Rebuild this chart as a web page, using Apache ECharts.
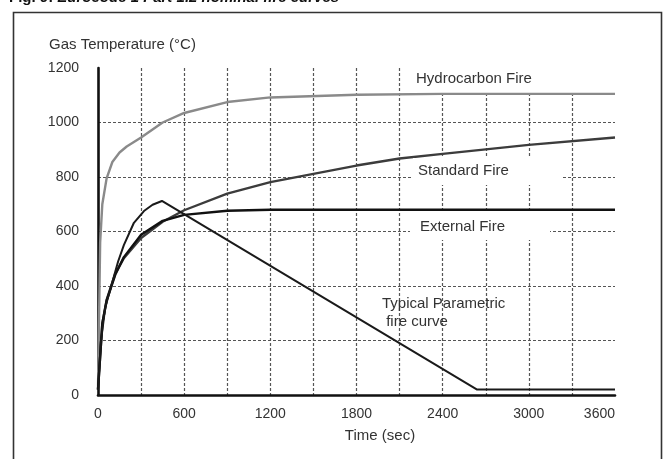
<!DOCTYPE html>
<html>
<head>
<meta charset="utf-8">
<script src="https://cdn.jsdelivr.net/npm/echarts@6/dist/echarts.min.js"></script>
<style>
html,body{margin:0;padding:0;background:#fff;}
#chart{width:665px;height:459px;}
</style>
</head>
<body>
<div id="chart"></div>
<script>
// ---- data (time in sec, temperature in °C) ----
var hydroT = [0, 15, 30, 60, 100, 150, 200, 300, 450, 600, 900, 1200, 1800, 2400, 3000, 3600];
var hydroV = [20, 560, 700, 795, 855, 890, 912, 945, 1000, 1035, 1075, 1092, 1102, 1105, 1105, 1105];

var stdT = [0, 30, 60, 120, 180, 300, 450, 600, 900, 1200, 1800, 2100, 2400, 3000, 3600];
var stdV = [20, 261, 349, 445, 502, 576, 636, 678, 739, 781, 842, 868, 885, 918, 945];

var extT = [0, 30, 60, 120, 180, 300, 450, 600, 900, 1200, 1800, 3600];
var extV = [20, 263, 346, 441, 506, 588, 639, 661, 676, 680, 680, 680];

var parT = [0, 20, 50, 100, 140, 180, 250, 320, 380, 445, 2640, 3600];
var parV = [20, 195, 320, 415, 490, 550, 632, 675, 698, 712, 20, 20];

var xTicks = [0, 600, 1200, 1800, 2400, 3000, 3600];
var yTicks = [0, 200, 400, 600, 800, 1000, 1200];

var labels = {
  title1: 'Fig. 9:',
  title2: ' Eurocode 1 Part 1.2 nominal fire curves',
  yName: 'Gas Temperature (°C)',
  xName: 'Time (sec)',
  hydro: 'Hydrocarbon Fire',
  std: 'Standard Fire',
  ext: 'External Fire',
  par1: 'Typical Parametric',
  par2: ' fire curve'
};

function pairs(t, v) { return t.map(function (x, i) { return [x, v[i]]; }); }

var FONT = '"Liberation Sans", Arial, sans-serif';
var chart = echarts.init(document.getElementById('chart'), null, { renderer: 'canvas' });

var gridLine = { show: true, showMinLine: false, showMaxLine: false,
  lineStyle: { color: '#555', width: 1.2, type: [3, 2] } };

var option = {
  animation: false,
  backgroundColor: '#fff',
  grid: { left: 98, right: 50, top: 68, bottom: 64, containLabel: false },
  xAxis: {
    type: 'value', min: 0, max: 3600, interval: 300,
    axisLine: { show: true, onZero: false, lineStyle: { color: '#111', width: 2.6 } },
    axisTick: { show: false },
    axisLabel: {
      margin: 12, color: '#333', fontSize: 14, fontFamily: FONT,
      alignMaxLabel: 'right',
      formatter: function (v) { return xTicks.indexOf(v) >= 0 ? String(v) : ''; }
    },
    splitLine: gridLine,
    name: labels.xName, nameLocation: 'middle', nameGap: 33,
    nameTextStyle: { color: '#333', fontSize: 15, fontFamily: FONT, padding: [0, 0, 0, 47] }
  },
  yAxis: {
    type: 'value', min: 0, max: 1200, interval: 200,
    axisLine: { show: true, onZero: false, lineStyle: { color: '#111', width: 2.6 } },
    axisTick: { show: false },
    axisLabel: {
      margin: 19, color: '#333', fontSize: 14, fontFamily: FONT,
      formatter: function (v) { return yTicks.indexOf(v) >= 0 ? String(v) : ''; }
    },
    splitLine: gridLine
  },
  series: [
    { name: labels.hydro, type: 'line', data: pairs(hydroT, hydroV), showSymbol: false, smooth: false,
      lineStyle: { color: '#8a8a8a', width: 2.4 }, z: 3 },
    { name: labels.std, type: 'line', data: pairs(stdT, stdV), showSymbol: false, smooth: false,
      lineStyle: { color: '#3c3c3c', width: 2.4 }, z: 3 },
    { name: labels.ext, type: 'line', data: pairs(extT, extV), showSymbol: false, smooth: false,
      lineStyle: { color: '#111', width: 2.4 }, z: 4 },
    { name: 'Parametric', type: 'line', data: pairs(parT, parV), showSymbol: false, smooth: false,
      lineStyle: { color: '#1a1a1a', width: 2 }, z: 4 }
  ],
  graphic: [
    { type: 'rect', silent: true, z: 0,
      shape: { x: 13.5, y: 12.5, width: 648, height: 470 },
      style: { fill: 'none', stroke: '#333', lineWidth: 1.6 } },
    { type: 'text', left: 9, top: -10, z: 10,
      style: { text: '{b|' + labels.title1 + '}{i|' + labels.title2 + '}',
        rich: { b: { fontSize: 15, fontWeight: 'bold', fontFamily: FONT, fill: '#111' },
                i: { fontSize: 15, fontStyle: 'italic', fontWeight: 'bold', fontFamily: FONT, fill: '#111' } } } },
    { type: 'text', left: 49, top: 37, z: 10,
      style: { text: labels.yName, fontSize: 15, fontFamily: FONT, fill: '#333' } },
    { type: 'text', left: 406, top: 68, z: 10,
      style: { text: labels.hydro, fontSize: 15, fontFamily: FONT, fill: '#333',
        backgroundColor: '#fff', padding: [2, 82, 4, 10], lineHeight: 17 } },
    { type: 'text', left: 413, top: 158, z: 10,
      style: { text: labels.std, fontSize: 15, fontFamily: FONT, fill: '#333',
        backgroundColor: '#fff', padding: [4, 53, 6, 5], lineHeight: 17 } },
    { type: 'text', left: 410, top: 213, z: 10,
      style: { text: labels.ext, fontSize: 15, fontFamily: FONT, fill: '#333',
        backgroundColor: '#fff', padding: [5, 45, 5, 10], lineHeight: 17 } },
    { type: 'text', left: 382, top: 295, z: 10,
      style: { text: labels.par1 + '\n' + labels.par2, fontSize: 15, fontFamily: FONT, fill: '#333',
        lineHeight: 18 } }
  ]
};
chart.setOption(option);
</script>
</body>
</html>
